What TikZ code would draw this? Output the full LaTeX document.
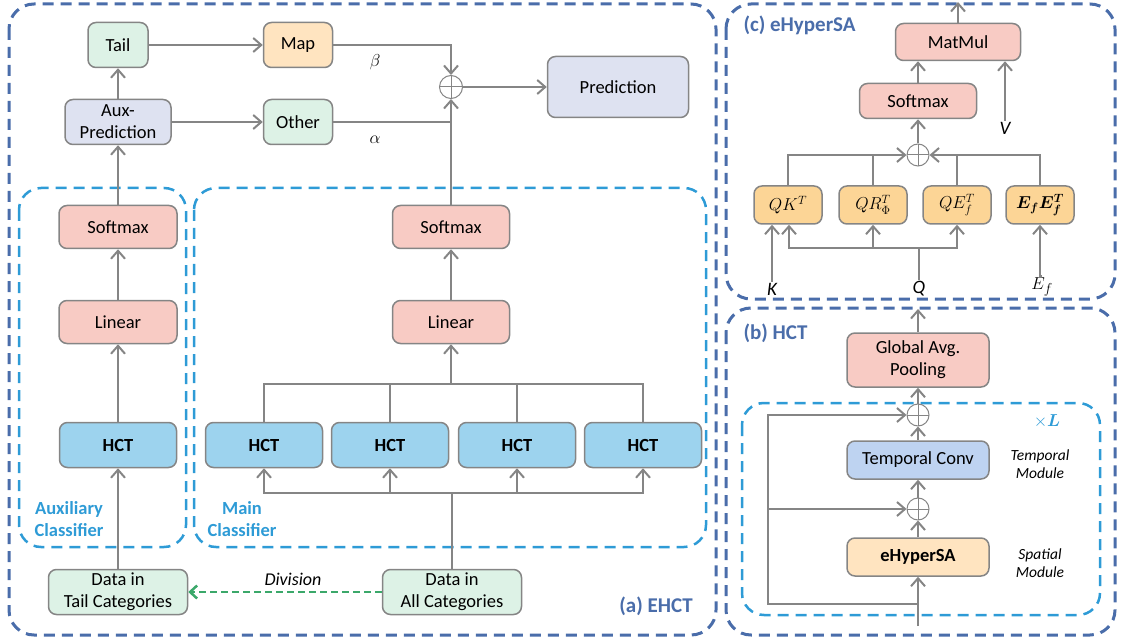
\documentclass[tikz,border=0pt]{standalone}
\usepackage{amsmath,bm}
\usepackage{fontspec}
\setmainfont{Carlito}
\usetikzlibrary{arrows.meta,calc}
\definecolor{dblue}{HTML}{4A6DAA}
\definecolor{lblue}{HTML}{2E9BD6}
\definecolor{lgray}{HTML}{858585}
\definecolor{cgreen}{HTML}{DDF2E6}
\definecolor{corange}{HTML}{FFE4C0}
\definecolor{clav}{HTML}{DEE2F1}
\definecolor{cpink}{HTML}{F8CBC4}
\definecolor{chct}{HTML}{9DD3EE}
\definecolor{ctemp}{HTML}{BED3F1}
\definecolor{cyel}{HTML}{FCD596}
\definecolor{dgreen}{HTML}{3BA86A}
\tikzset{
  box/.style={draw=lgray, line width=1.5pt, rounded corners=8pt, align=center, inner sep=0pt, font=\fontsize{18.5}{22}\selectfont},
  arr/.style={draw=lgray, line width=2pt, -{Straight Barb[length=8pt,width=14pt,line width=2pt]}},
  ln/.style={draw=lgray, line width=2pt},
  oplus/.style={circle, draw=lgray, line width=1pt, minimum size=23pt, inner sep=0pt,
    path picture={\draw[lgray,line width=1pt] (path picture bounding box.north) -- (path picture bounding box.south) (path picture bounding box.west) -- (path picture bounding box.east);}},
  outerbox/.style={draw=dblue, line width=3pt, dash pattern=on 11pt off 7pt, rounded corners=25pt},
  innerbox/.style={draw=lblue, line width=2.5pt, dash pattern=on 11pt off 7pt, rounded corners=22pt},
  title/.style={text=dblue, font=\fontsize{21}{24}\selectfont\bfseries},
  clab/.style={text=lblue, align=center, font=\fontsize{18.5}{22}\selectfont\bfseries},
  lab/.style={font=\fontsize{19}{22}\selectfont, inner sep=1pt},
  small/.style={align=center, font=\fontsize{15.5}{18}\selectfont\itshape},
}
\begin{document}
\begin{tikzpicture}[x=1pt,y=-1pt]
\useasboundingbox (0,0) rectangle (1121,644);
% frames
\draw[outerbox] (9,4) rectangle (716,635);
\draw[outerbox] (726,4) rectangle (1115,299);
\draw[outerbox] (726,308) rectangle (1115,635);
\draw[innerbox] (19,188) rectangle (186,547);
\draw[innerbox] (194,188) rectangle (706,547);
\draw[innerbox] (742,403) rectangle (1100,615);

% ---------- (a) EHCT ----------
\node[box, fill=cgreen, minimum width=60pt, minimum height=45pt] (tail) at (118,45) {Tail};
\node[box, fill=corange, minimum width=69pt, minimum height=45pt] (map) at (298,45) {Map};
\node[box, fill=clav, minimum width=106pt, minimum height=45pt] (aux) at (118,122) {Aux-\\Prediction};
\node[box, fill=cgreen, minimum width=69pt, minimum height=45pt] (other) at (298,122) {Other};
\node[oplus] (sum) at (451,87) {};
\node[box, fill=clav, minimum width=141pt, minimum height=61pt] (pred) at (618,87) {Prediction};
\node[lab] (beta) at (375,62) {$\beta$};
\node[lab] (alpha) at (375,140) {$\alpha$};

\node[box, fill=cpink, minimum width=118pt, minimum height=43pt] (smA) at (118,227) {Softmax};
\node[box, fill=cpink, minimum width=118pt, minimum height=43pt] (linA) at (118,322) {Linear};
\node[box, fill=chct, minimum width=117pt, minimum height=45pt, font=\fontsize{18.5}{22}\selectfont\bfseries] (hA) at (118,445) {HCT};

\node[box, fill=cpink, minimum width=117pt, minimum height=43pt] (smM) at (451,227) {Softmax};
\node[box, fill=cpink, minimum width=117pt, minimum height=43pt] (linM) at (451,322) {Linear};
\foreach \n/\x in {h1/264,h2/390,h3/517,h4/643}
  \node[box, fill=chct, minimum width=117pt, minimum height=45pt, font=\fontsize{18.5}{22}\selectfont\bfseries] (\n) at (\x,445) {HCT};

\node[box, fill=cgreen, minimum width=139pt, minimum height=45pt] (dataT) at (118,592) {Data in\\Tail Categories};
\node[box, fill=cgreen, minimum width=139pt, minimum height=45pt] (dataA) at (452,592) {Data in\\All Categories};
\node[lab, font=\fontsize{18}{22}\selectfont\itshape] (div) at (293,579) {Division};

\node[clab] (auxlab) at (69,519) {Auxiliary\\Classifier};
\node[clab] (mainlab) at (242,519) {Main\\Classifier};
\node[title] (ta) at (656,606) {(a) EHCT};

\draw[arr] (aux) -- (tail);
\draw[arr] (tail) -- (map);
\draw[arr] (aux) -- (other);
\draw[arr] (map.east) -| (sum.north);
\draw[ln] (other.east) -- (sum.south |- other.east);
\draw[arr] (smM.north) -- (sum.south);
\draw[arr] (sum) -- (pred);

\draw[arr] (smA) -- (aux);
\draw[arr] (linA) -- (smA);
\draw[arr] (hA) -- (linA);
\draw[arr] (dataT) -- (hA);

\draw[arr] (linM) -- (smM);
\coordinate (tb) at (451,384);
\draw[ln] (h1.north) |- (tb) -| (h4.north);
\draw[ln] (h2.north) -- (h2.north |- tb);
\draw[ln] (h3.north) -- (h3.north |- tb);
\draw[arr] (tb) -- (linM.south);
\coordinate (bb) at (452,493);
\draw[ln] (dataA.north) -- (bb);
\draw[arr] (bb) -| (h1.south);
\draw[arr] (bb) -| (h2.south);
\draw[arr] (bb) -| (h3.south);
\draw[arr] (bb) -| (h4.south);
\draw[draw=dgreen, line width=2.5pt, dash pattern=on 7pt off 4pt, -{Straight Barb[length=7pt,width=13pt,line width=2.5pt]}] (dataA.west) -- (dataT.east);

% ---------- (c) eHyperSA ----------
\node[title, anchor=west] (tc) at (740,25) {(c) eHyperSA};
\node[box, fill=cpink, minimum width=125pt, minimum height=37pt] (matmul) at (958,42) {MatMul};
\node[box, fill=cpink, minimum width=117pt, minimum height=35pt] (smc) at (918,101) {Softmax};
\node[lab, font=\fontsize{19}{22}\selectfont\itshape] (vlab) at (1005,128) {V};
\node[oplus, minimum size=22pt] (sc) at (918,155) {};
\node[box, fill=cyel, minimum width=68pt, minimum height=38pt] (q1) at (788,205) {$QK^T$};
\node[box, fill=cyel, minimum width=68pt, minimum height=38pt] (q2) at (873,205) {$QR_{\Phi}^T$};
\node[box, fill=cyel, minimum width=68pt, minimum height=38pt] (q3) at (957,205) {$QE_f^T$};
\node[box, fill=cyel, minimum width=68pt, minimum height=38pt] (q4) at (1040,205) {$\boldsymbol{E_f E_f^T}$};
\node[lab, font=\fontsize{19}{22}\selectfont\itshape] (klab) at (772,289) {K};
\node[lab, font=\fontsize{19}{22}\selectfont\itshape] (qlab) at (919,289) {Q};
\node[lab] (eflab) at (1042,287) {$E_f$};
\coordinate (cout) at (958,2);
\draw[arr] (matmul.north) -- (cout);
\draw[arr] (smc.north) -- (smc.north |- matmul.south);
\draw[arr] (vlab.north) -- (vlab.north |- matmul.south);
\draw[arr] (sc) -- (smc);
\draw[arr] (q1.north) |- (sc.west);
\draw[ln] (q2.north) -- (q2.north |- sc.west);
\draw[ln] (q3.north) -- (q3.north |- sc.east);
\draw[arr] (q4.north) |- (sc.east);
\draw[arr] (klab.north) -- (klab.north |- q1.south);
\coordinate (qb) at (919,248);
\draw[ln] (qlab.north) -- (qb);
\draw[arr] (qb) -| ($(q1.south)+(1,0)$);
\draw[arr] (qb) -| (q2.south);
\draw[arr] (qb) -| (q3.south);
\draw[arr] (eflab.north) -- (eflab.north -| q4.south) -- (q4.south);

% ---------- (b) HCT ----------
\node[title, anchor=west] (tb2) at (740,333) {(b) HCT};
\node[box, fill=cpink, minimum width=142pt, minimum height=54pt] (gap) at (918,360) {Global Avg.\\Pooling};
\node[oplus, minimum size=22pt] (s1) at (918,415) {};
\node[box, fill=ctemp, minimum width=142pt, minimum height=38pt] (tcv) at (918,460) {Temporal Conv};
\node[oplus, minimum size=22pt] (s2) at (918,509) {};
\node[box, fill=corange, minimum width=142pt, minimum height=38pt, font=\fontsize{18.5}{22}\selectfont\bfseries] (eh) at (918,557) {eHyperSA};
\node[text=lblue, font=\fontsize{19}{22}\selectfont] (xl) at (1047,421) {$\times\boldsymbol{L}$};
\node[small] (tm) at (1040,464) {Temporal\\Module};
\node[small] (sm) at (1040,563) {Spatial\\Module};
\coordinate (bout) at (918,309);
\coordinate (bin) at (918,626);
\coordinate (rb) at (918,604);
\coordinate (rl) at (768,604);
\coordinate (rt) at (768,415);
\coordinate (rm) at (768,509);
\draw[arr] (gap.north) -- (bout);
\draw[arr] (s1) -- (gap);
\draw[arr] (tcv) -- (s1);
\draw[arr] (s2) -- (tcv);
\draw[arr] (eh) -- (s2);
\draw[arr] (bin) -- (eh.south);
\draw[arr] (rb) -- (rl) -- (rt) -- (s1.west);
\draw[arr] (rm) -- (s2.west);
\end{tikzpicture}
\end{document}
